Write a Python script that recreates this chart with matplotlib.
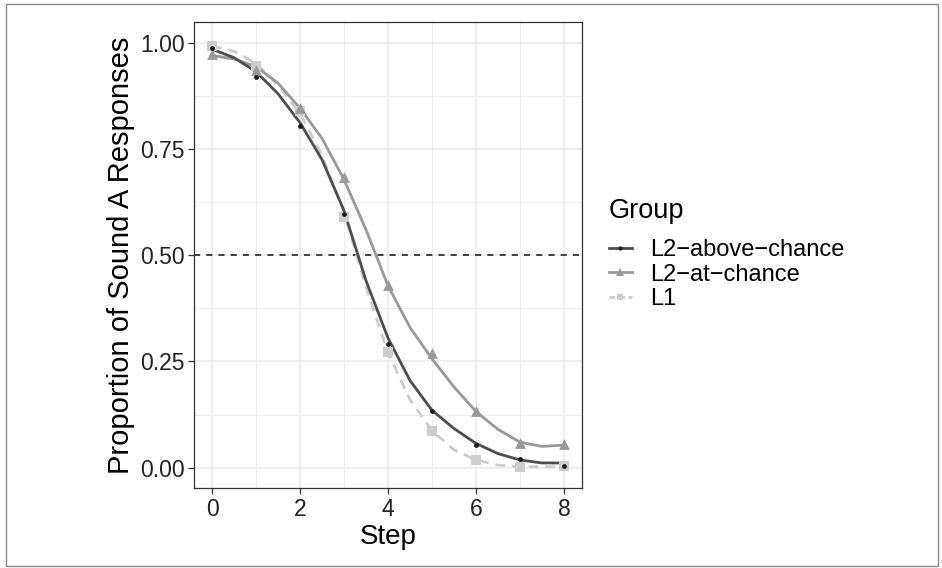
import matplotlib
matplotlib.use("Agg")
import matplotlib.pyplot as plt
from matplotlib.lines import Line2D
from matplotlib.patches import Rectangle
from matplotlib.ticker import MultipleLocator


OUTPUT_PATH = "out.png"

plt.rcParams["font.family"] = ["Liberation Sans", "DejaVu Sans"]

# observed proportions per step
steps = [0, 1, 2, 3, 4, 5, 6, 7, 8]
above_pts = [0.988, 0.920, 0.804, 0.597, 0.291, 0.134, 0.054, 0.020, 0.005]
at_pts = [0.973, 0.936, 0.846, 0.685, 0.430, 0.269, 0.133, 0.057, 0.055]
l1_pts = [0.992, 0.945, 0.840, 0.590, 0.272, 0.087, 0.018, 0.002, 0.004]

# fitted curves, every half step
fit_x = [0, 0.5, 1, 1.5, 2, 2.5, 3, 3.5, 4, 4.5, 5, 5.5, 6, 6.5, 7, 7.5, 8]
above_fit = [0.985, 0.965, 0.932, 0.880, 0.812, 0.725, 0.605, 0.440, 0.305,
             0.205, 0.135, 0.092, 0.057, 0.033, 0.018, 0.011, 0.011]
at_fit = [0.970, 0.962, 0.944, 0.905, 0.846, 0.775, 0.678, 0.560, 0.428,
          0.330, 0.256, 0.190, 0.132, 0.090, 0.060, 0.050, 0.053]
l1_fit = [0.993, 0.980, 0.952, 0.900, 0.834, 0.735, 0.600, 0.425, 0.270,
          0.160, 0.087, 0.042, 0.018, 0.006, 0.002, 0.002, 0.003]

group_labels = ["L2\u2212above\u2212chance", "L2\u2212at\u2212chance", "L1"]


def plot_curves():

    fig = plt.figure(figsize=(9.42, 5.68), dpi=100)
    ax = fig.add_axes([0.2064, 0.1408, 0.4110, 0.8205])

    # grid like theme_bw
    ax.xaxis.set_major_locator(MultipleLocator(2))
    ax.xaxis.set_minor_locator(MultipleLocator(1))
    ax.yaxis.set_major_locator(MultipleLocator(0.25))
    ax.yaxis.set_minor_locator(MultipleLocator(0.125))
    ax.grid(True, which="major", color="#ebebeb", linewidth=1.1)
    ax.grid(True, which="minor", color="#ebebeb", linewidth=0.6)
    ax.set_axisbelow(True)

    ax.axhline(0.5, color="#111111", linewidth=1.1, linestyle=(0, (4, 4)), zorder=2)

    ax.plot(fit_x, l1_fit, color="#cccccc", linewidth=2.0,
            linestyle=(0, (3.5, 2.5)), dash_joinstyle="round", zorder=3)
    ax.plot(fit_x, at_fit, color="#999999", linewidth=2.0,
            solid_joinstyle="round", zorder=4)
    ax.plot(fit_x, above_fit, color="#4d4d4d", linewidth=2.0,
            solid_joinstyle="round", zorder=5)

    ax.scatter(steps, l1_pts, marker="s", s=50, color="#cccccc",
               linewidths=0, zorder=6)
    ax.scatter(steps, at_pts, marker="^", s=60, color="#999999",
               linewidths=0, zorder=6)
    ax.scatter(steps, above_pts, marker="o", s=12, color="#1a1a1a",
               linewidths=0, zorder=7)

    ax.set_xlim(-0.4, 8.4)
    ax.set_ylim(-0.048, 1.049)
    ax.set_yticks([0, 0.25, 0.5, 0.75, 1.0])
    ax.set_yticklabels(["0.00", "0.25", "0.50", "0.75", "1.00"])

    for spine in ax.spines.values():
        spine.set_color("#333333")
        spine.set_linewidth(0.9)

    ax.tick_params(which="major", length=4, width=0.9, color="#333333",
                   labelsize=16.5, labelcolor="#222222", pad=3)
    ax.tick_params(which="minor", length=0)

    ax.set_xlabel("Step", fontsize=20, labelpad=2)
    ax.set_ylabel("Proportion of Sound A Responses", fontsize=21, labelpad=4)

    handles = [
        Line2D([0], [0], color="#4d4d4d", linewidth=2.0, marker="o",
               markersize=3, markerfacecolor="#1a1a1a", markeredgewidth=0),
        Line2D([0], [0], color="#999999", linewidth=2.0, marker="^",
               markersize=6, markeredgewidth=0),
        Line2D([0], [0], color="#cccccc", linewidth=2.0,
               linestyle=(0, (2, 1.5)), marker="s", markersize=5,
               markeredgewidth=0),
    ]
    leg = ax.legend(handles, group_labels, title="Group", frameon=False,
                    loc="center left", bbox_to_anchor=(1.015, 0.502),
                    fontsize=17, title_fontsize=19.5, handlelength=1.0,
                    handletextpad=0.75, labelspacing=0.1,
                    alignment="left")
    leg._legend_box.align = "left"
    leg._legend_box.sep = 11

    # outer figure border
    fig.patches.append(Rectangle((6 / 942, 2 / 568), 932 / 942, 562 / 568,
                                 transform=fig.transFigure, fill=False,
                                 edgecolor="#8a8a8a", linewidth=1.0))

    fig.savefig(OUTPUT_PATH, dpi=100)


if __name__ == "__main__":

    plot_curves()
